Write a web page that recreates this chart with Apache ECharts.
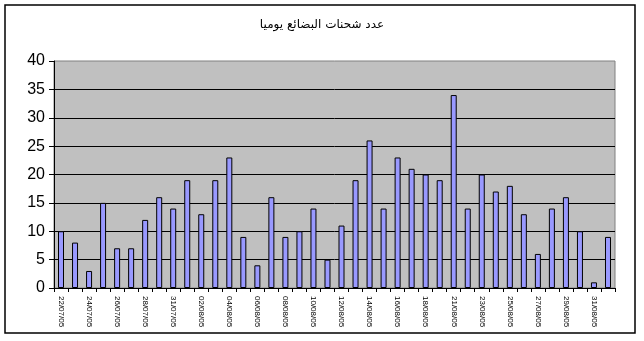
<!DOCTYPE html>
<html>
<head>
<meta charset="utf-8">
<script src="https://cdn.jsdelivr.net/npm/echarts@6/dist/echarts.min.js"></script>
<style>
html,body{margin:0;padding:0;background:#fff;}
#c{width:644px;height:341px;}
</style>
</head>
<body>
<div id="c"></div>
<script>
const title = 'عدد شحنات البضائع يوميا';
const categories = [
  '22/07/05','23/07/05','24/07/05','25/07/05','26/07/05','27/07/05','28/07/05','30/07/05',
  '31/07/05','01/08/05','02/08/05','03/08/05','04/08/05','05/08/05','06/08/05','07/08/05',
  '08/08/05','09/08/05','10/08/05','11/08/05','12/08/05','13/08/05','14/08/05','15/08/05',
  '16/08/05','17/08/05','18/08/05','20/08/05','21/08/05','22/08/05','23/08/05','24/08/05',
  '25/08/05','26/08/05','27/08/05','28/08/05','29/08/05','30/08/05','31/08/05','01/09/05'
];
const values = [
  10, 8, 3, 15, 7, 7, 12, 16, 14, 19,
  13, 19, 23, 9, 4, 16, 9, 10, 14, 5,
  11, 19, 26, 14, 23, 21, 20, 19, 34, 14,
  20, 17, 18, 13, 6, 14, 16, 10, 1, 9
];
const yTicks = [0, 5, 10, 15, 20, 25, 30, 35, 40];

const chart = echarts.init(document.getElementById('c'), null, {renderer: 'canvas'});
chart.setOption({
  animation: false,
  backgroundColor: '#ffffff',
  title: {
    text: title,
    left: 'center',
    top: 14,
    textStyle: {fontFamily: 'DejaVu Sans', fontSize: 12, fontWeight: 'normal', color: '#000'}
  },
  graphic: [{
    type: 'rect',
    shape: {x: 5, y: 5, width: 630, height: 328},
    style: {fill: 'none', stroke: '#000', lineWidth: 1.5},
    silent: true,
    z: 100
  }],
  grid: {
    left: 54, top: 61, width: 561, height: 227,
    show: true, backgroundColor: '#C0C0C0', borderColor: '#808080', borderWidth: 1
  },
  xAxis: {
    type: 'category',
    data: categories,
    boundaryGap: true,
    axisLine: {lineStyle: {color: '#000', width: 1}},
    axisTick: {show: true, interval: 0, length: 4, lineStyle: {color: '#000'}},
    axisLabel: {
      interval: 1, rotate: -90, fontSize: 8, fontFamily: 'Liberation Sans',
      color: '#000', margin: 8
    },
    splitLine: {show: false}
  },
  yAxis: {
    type: 'value',
    min: yTicks[0], max: yTicks[yTicks.length - 1], interval: 5,
    axisLine: {show: true, lineStyle: {color: '#000', width: 1}},
    axisTick: {show: true, length: 5, lineStyle: {color: '#000'}},
    axisLabel: {fontSize: 16, fontFamily: 'Liberation Sans', color: '#000', margin: 9},
    splitLine: {show: true, showMaxLine: false, lineStyle: {color: '#000', width: 1}}
  },
  series: [{
    type: 'bar',
    data: values,
    barWidth: 6,
    itemStyle: {color: '#9999FF', borderColor: '#000', borderWidth: 1}
  }]
});
</script>
</body>
</html>
